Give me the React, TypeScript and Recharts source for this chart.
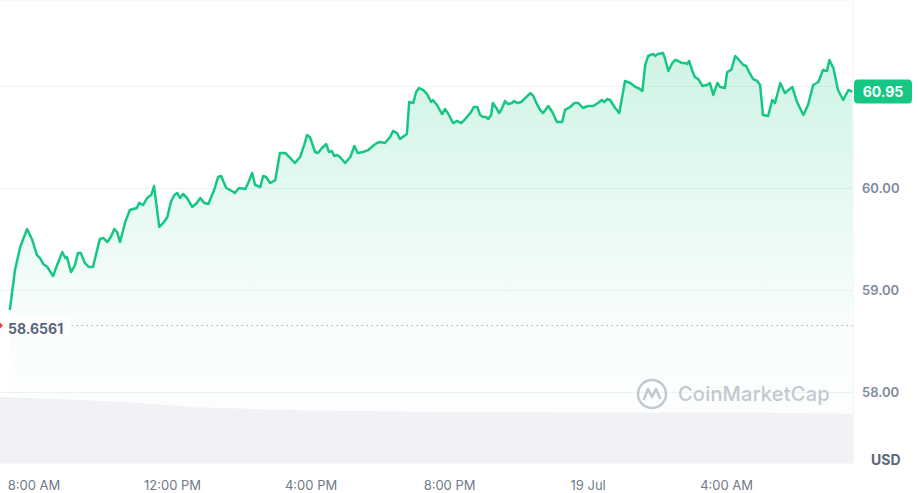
import { ComposedChart, Area, XAxis, YAxis, CartesianGrid, ReferenceLine } from 'recharts'

// minutes since 18 Jul 00:00
const TIMES = [
  438, 447, 456, 468, 477, 485, 490, 496, 503, 513,
  520, 529, 534, 537, 544, 551, 556, 561, 568, 575,
  582, 594, 600, 607, 613, 619, 624, 629, 638, 646,
  652, 658, 662, 669, 676, 683, 688, 691, 697, 704,
  711, 717, 723, 728, 733, 738, 745, 754, 762, 768,
  775, 782, 792, 799, 804, 813, 820, 828, 835, 846,
  851, 858, 863, 872, 877, 882, 889, 898, 906, 915,
  924, 932, 941, 948, 953, 958, 967, 972, 979, 986,
  991, 996, 1000, 1005, 1010, 1019, 1028, 1035, 1041, 1050,
  1059, 1067, 1074, 1080, 1088, 1097, 1102, 1109, 1114, 1126,
  1130, 1137, 1142, 1147, 1154, 1161, 1168, 1171, 1178, 1187,
  1192, 1197, 1206, 1213, 1220, 1227, 1236, 1242, 1248, 1253,
  1258, 1263, 1267, 1272, 1275, 1281, 1286, 1291, 1296, 1301,
  1308, 1312, 1317, 1324, 1331, 1340, 1345, 1352, 1357, 1362,
  1371, 1378, 1386, 1395, 1400, 1409, 1416, 1423, 1431, 1440,
  1449, 1457, 1464, 1468, 1473, 1478, 1487, 1494, 1504, 1513,
  1522, 1527, 1534, 1539, 1544, 1553, 1556, 1561, 1570, 1573,
  1579, 1586, 1591, 1596, 1603, 1608, 1612, 1615, 1620, 1625,
  1631, 1638, 1646, 1651, 1657, 1664, 1669, 1677, 1681, 1688,
  1695, 1700, 1709, 1714, 1719, 1726, 1733, 1738, 1743, 1752,
  1759, 1764, 1773, 1781, 1794, 1802, 1813, 1821, 1830, 1839,
  1847, 1854, 1858, 1865, 1873, 1882, 1891, 1898,
]

const PRICES = [
  58.809, 59.201, 59.426, 59.603, 59.495, 59.348, 59.319, 59.26, 59.23, 59.142,
  59.25, 59.377, 59.319, 59.328, 59.181, 59.25, 59.368, 59.368, 59.27, 59.23,
  59.23, 59.505, 59.515, 59.475, 59.524, 59.603, 59.573, 59.475, 59.672, 59.789,
  59.799, 59.809, 59.858, 59.838, 59.907, 59.936, 60.024, 59.887, 59.623, 59.662,
  59.721, 59.868, 59.936, 59.956, 59.907, 59.946, 59.907, 59.819, 59.858, 59.907,
  59.858, 59.848, 59.985, 60.113, 60.123, 60.005, 59.985, 59.956, 60.005, 59.995,
  60.054, 60.152, 60.034, 60.015, 60.123, 60.113, 60.054, 60.083, 60.348, 60.348,
  60.299, 60.25, 60.309, 60.426, 60.524, 60.505, 60.358, 60.348, 60.397, 60.436,
  60.358, 60.368, 60.319, 60.328, 60.309, 60.25, 60.309, 60.417, 60.348, 60.358,
  60.377, 60.417, 60.446, 60.456, 60.446, 60.505, 60.564, 60.544, 60.485, 60.534,
  60.848, 60.838, 60.946, 60.985, 60.966, 60.926, 60.848, 60.868, 60.819, 60.73,
  60.779, 60.74, 60.642, 60.662, 60.642, 60.681, 60.74, 60.799, 60.799, 60.721,
  60.701, 60.701, 60.681, 60.721, 60.838, 60.789, 60.74, 60.789, 60.858, 60.828,
  60.838, 60.858, 60.838, 60.848, 60.887, 60.936, 60.907, 60.819, 60.77, 60.74,
  60.809, 60.75, 60.652, 60.652, 60.77, 60.799, 60.838, 60.838, 60.789, 60.809,
  60.809, 60.838, 60.868, 60.848, 60.877, 60.868, 60.789, 60.74, 61.054, 61.034,
  60.995, 60.985, 60.956, 61.211, 61.299, 61.319, 61.299, 61.319, 61.328, 61.279,
  61.152, 61.23, 61.26, 61.25, 61.23, 61.23, 61.221, 61.25, 61.162, 61.093,
  61.073, 61.005, 61.015, 61.034, 60.917, 61.034, 60.995, 60.985, 61.142, 61.162,
  61.299, 61.27, 61.211, 61.201, 61.142, 61.073, 61.054, 61.015, 60.721, 60.711,
  60.868, 60.838, 61.034, 60.936, 60.995, 60.848, 60.721, 60.819, 61.015, 61.044,
  61.162, 61.152, 61.26, 61.181, 60.966, 60.868, 60.966, 60.95,
]

// volume band at the bottom (relative units, hidden axis 0..100)
const VOL_TIMES = [421, 480, 560, 640, 700, 780, 900, 1000, 1200, 1400, 1600, 1800, 1899]
const VOL_VALUES = [14.3, 14.0, 13.6, 13.2, 12.6, 12.0, 11.5, 11.3, 11.0, 10.9, 10.9, 10.8, 10.6]

const X_TICKS = [480, 720, 960, 1200, 1440, 1680]
const X_LABELS = ['8:00 AM', '12:00 PM', '4:00 PM', '8:00 PM', '19 Jul', '4:00 AM']
const Y_TICKS = [58, 59, 60, 61]
const LAST_PRICE = 60.95
const OPEN_PRICE = 58.6561

const GREEN = '#16c784'
const FONT = 'Inter, "Noto Sans", sans-serif'

const rows: { t: number; price?: number; vol?: number }[] = [
  ...TIMES.map((t, i) => ({ t, price: PRICES[i] })),
  ...VOL_TIMES.map((t, i) => ({ t, vol: VOL_VALUES[i] })),
].sort((a, b) => a.t - b.t)

function XTick({ x, y, payload }: any) {
  const i = X_TICKS.indexOf(payload.value)
  return (
    <text x={x} y={y + 19} textAnchor="middle" fill="#6f7a8c" fontSize={13} fontFamily={FONT}>
      {X_LABELS[i]}
    </text>
  )
}

function YTick({ x, y, payload }: any) {
  if (payload.value === 61) return <g />
  return (
    <text x={x + 1} y={y + 4} textAnchor="start" fill="#808a9d" fontSize={13} fontWeight={600} fontFamily={FONT}>
      {payload.value.toFixed(2)}
    </text>
  )
}

function BadgeLabel({ viewBox }: any) {
  const { x, y, width } = viewBox
  const left = x + width + 1
  return (
    <g>
      <rect x={left} y={y - 12} width={58} height={24} rx={4} fill={GREEN} />
      <text x={left + 29} y={y + 5} textAnchor="middle" fill="#fff" fontSize={14} fontWeight={700} fontFamily={FONT}>
        {LAST_PRICE.toFixed(2)}
      </text>
    </g>
  )
}

function OpenLabel({ viewBox }: any) {
  const { x, y } = viewBox
  return (
    <g>
      <rect x={x} y={y - 9} width={70} height={18} fill="#fff" />
      <path d={`M${x},${y - 3} L${x + 3},${y} L${x},${y + 3} Z`} fill="#ea3943" />
      <text x={x + 8} y={y + 8} fill="#58667e" fontSize={14} fontWeight={700} fontFamily={FONT}>
        {OPEN_PRICE}
      </text>
    </g>
  )
}

export default function App() {
  return (
    <div style={{ position: 'absolute', left: 0, top: 0, width: 918, height: 493, background: '#fff', fontFamily: FONT }}>
      <ComposedChart width={918} height={493} data={rows} margin={{ top: 0, right: 0, left: 0, bottom: 0 }}>
        <defs>
          <linearGradient id="priceFill" x1="0" y1="0" x2="0" y2="1">
            <stop offset="0%" stopColor={GREEN} stopOpacity={0.34} />
            <stop offset="65%" stopColor={GREEN} stopOpacity={0.05} />
            <stop offset="100%" stopColor={GREEN} stopOpacity={0} />
          </linearGradient>
        </defs>
        <CartesianGrid vertical={false} stroke="#eff2f5" />
        <XAxis
          type="number"
          dataKey="t"
          domain={[421, 1899]}
          ticks={X_TICKS}
          tick={<XTick />}
          tickLine={false}
          axisLine={false}
          height={30}
          allowDataOverflow
        />
        <YAxis
          orientation="right"
          domain={[57.309, 61.848]}
          ticks={Y_TICKS}
          tick={<YTick />}
          tickLine={false}
          axisLine={{ stroke: '#eff2f5' }}
          width={65}
          allowDataOverflow
        />
        <YAxis yAxisId="vol" hide domain={[0, 100]} />
        <Area
          type="linear"
          dataKey="price"
          stroke={GREEN}
          strokeWidth={2.5}
          strokeLinejoin="round"
          fill="url(#priceFill)"
          connectNulls
          dot={false}
          activeDot={false}
          isAnimationActive={false}
        />
        <Area
          yAxisId="vol"
          type="linear"
          dataKey="vol"
          stroke="none"
          fill="#f0f2f5"
          fillOpacity={1}
          connectNulls
          dot={false}
          activeDot={false}
          isAnimationActive={false}
        />
        <ReferenceLine y={OPEN_PRICE} stroke="#a3aab5" strokeDasharray="1.5 3.5" label={<OpenLabel />} />
        <ReferenceLine y={LAST_PRICE} stroke="none" label={<BadgeLabel />} />
      </ComposedChart>
      <div style={{ position: 'absolute', left: 871, top: 451, fontSize: 14, fontWeight: 700, color: '#58667e' }}>USD</div>
      <div style={{ position: 'absolute', left: 636, top: 378, display: 'flex', alignItems: 'center', gap: 10, color: '#c3c8d0' }}>
        <svg width={32} height={32} viewBox="0 0 32 32">
          <circle cx={16} cy={16} r={14} fill="none" stroke="#c3c8d0" strokeWidth={2.5} />
          <path d="M8 21 L12 11 L16 19 L20 11 L24 20" fill="none" stroke="#c3c8d0" strokeWidth={2.5} strokeLinejoin="round" strokeLinecap="round" />
        </svg>
        <span style={{ fontSize: 20, fontWeight: 500, letterSpacing: 0.2 }}>CoinMarketCap</span>
      </div>
    </div>
  )
}
